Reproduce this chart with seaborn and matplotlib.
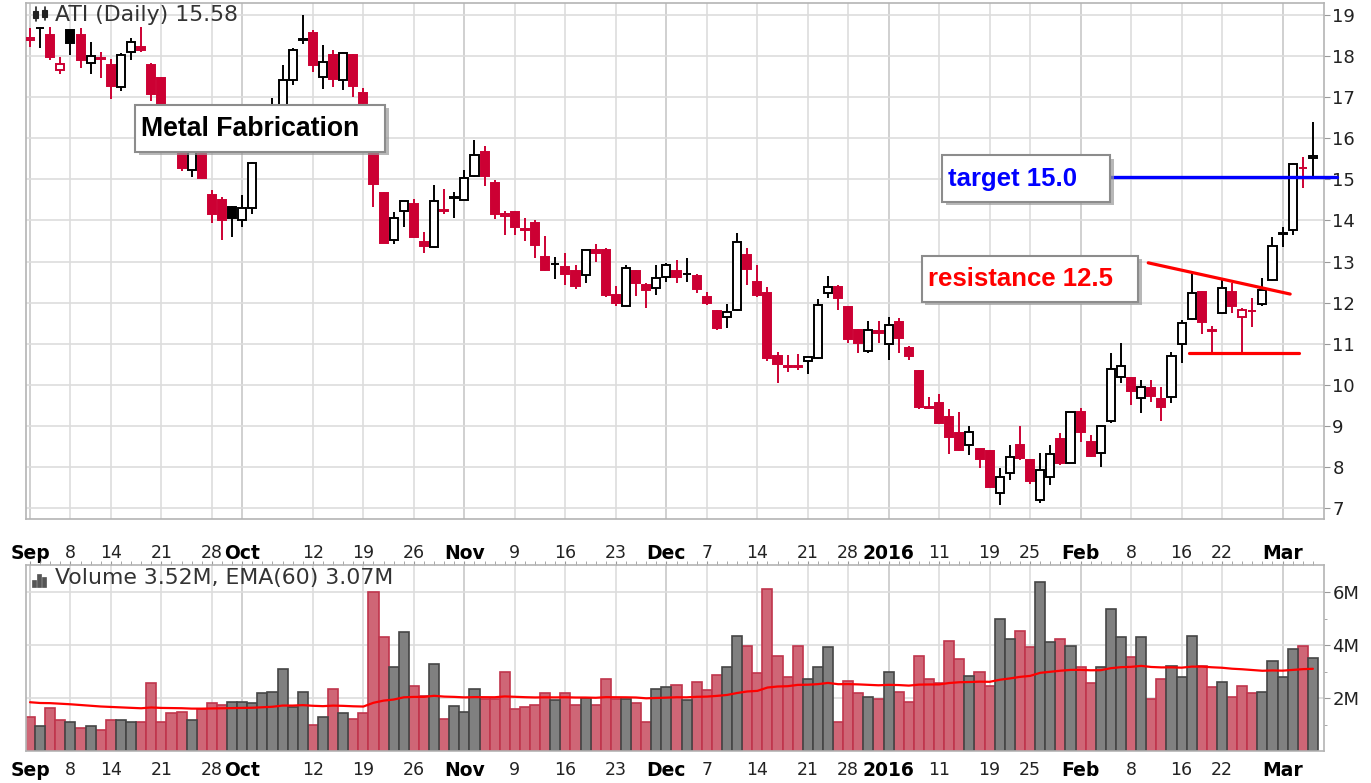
import numpy as np
import pandas as pd
import matplotlib
matplotlib.use("Agg")
import matplotlib.pyplot as plt
import matplotlib.patheffects as pe
from matplotlib.patches import Rectangle
import seaborn as sns

sns.set_style("white")
plt.rcParams["font.family"] = ["DejaVu Sans"]

# ---------------- data ----------------
start_date, end_date = "2015-09-01", "2016-03-04"
holidays = ["2015-09-07", "2015-11-26", "2015-12-25", "2016-01-01", "2016-01-18", "2016-02-15"]

prev_close_start = 18.70
opens = [18.40, 18.68, 18.51, 17.66, 18.64, 18.51, 17.84, 17.95, 17.78, 17.24,
         18.11, 18.23, 17.78, 17.46, 16.55, 15.85, 15.23, 15.80, 14.62, 14.50,
         14.32, 14.01, 14.30, 15.90, 16.30, 16.80, 17.42, 18.42, 18.55, 17.48,
         18.03, 17.43, 18.03, 17.11, 16.40, 14.68, 13.53, 14.24, 14.40, 13.48,
         13.35, 14.26, 14.55, 14.51, 15.08, 15.66, 14.92, 14.11, 14.20, 13.79,
         13.93, 13.12, 12.93, 12.88, 12.76, 12.67, 13.28, 13.28, 12.19, 11.92,
         12.76, 12.43, 12.35, 12.63, 12.76, 12.70, 12.65, 12.15, 11.81, 11.64,
         11.82, 13.16, 12.51, 12.23, 10.70, 10.46, 10.46, 10.57, 10.65, 12.24,
         12.39, 11.90, 11.34, 10.83, 11.30, 10.99, 11.54, 10.89, 10.35, 9.46,
         9.57, 9.23, 8.84, 8.54, 8.43, 8.40, 7.36, 7.85, 8.54, 8.17,
         7.20, 7.75, 8.68, 8.11, 9.35, 8.62, 8.35, 9.13, 10.20, 10.16,
         9.67, 9.92, 9.65, 9.71, 11.00, 11.60, 12.27, 11.33, 11.74, 12.27,
         11.66, 11.81, 11.97, 12.55, 13.68, 13.77, 15.28, 15.51]
highs = [18.68, 18.72, 18.72, 17.99, 18.64, 18.68, 18.35, 18.11, 17.92, 18.07,
         18.43, 18.72, 17.82, 17.50, 16.70, 16.00, 15.90, 15.85, 14.74, 14.58,
         14.35, 14.62, 15.43, 16.40, 16.97, 17.78, 18.19, 19.00, 18.64, 18.27,
         18.16, 18.11, 18.05, 17.22, 16.50, 14.70, 14.21, 14.47, 14.52, 13.73,
         14.86, 14.76, 14.70, 15.23, 15.96, 15.81, 14.99, 14.24, 14.24, 14.05,
         14.00, 13.62, 13.12, 13.20, 12.92, 13.27, 13.44, 13.32, 12.41, 12.92,
         12.80, 12.47, 12.92, 12.96, 13.04, 13.08, 12.71, 12.27, 11.83, 11.98,
         13.69, 13.32, 12.92, 12.37, 10.81, 10.73, 10.75, 10.67, 12.08, 12.65,
         12.43, 11.92, 11.36, 11.56, 11.56, 11.66, 11.62, 10.95, 10.36, 9.71,
         9.79, 9.41, 9.35, 9.00, 8.45, 8.42, 7.97, 8.54, 9.00, 8.19,
         8.35, 8.54, 8.82, 9.35, 9.43, 8.78, 9.00, 10.77, 11.01, 10.20,
         10.12, 10.12, 9.96, 10.81, 11.58, 12.71, 12.28, 11.43, 12.59, 12.47,
         11.86, 12.11, 12.59, 13.59, 13.85, 15.39, 15.54, 16.40]
lows = [18.23, 18.19, 17.90, 17.56, 18.03, 17.70, 17.56, 17.46, 16.95, 17.16,
        17.90, 18.11, 16.90, 16.40, 15.72, 15.20, 15.07, 15.00, 13.95, 13.53,
        13.61, 13.85, 14.17, 15.85, 16.10, 16.70, 17.30, 18.30, 17.62, 17.19,
        17.24, 17.18, 17.01, 16.75, 14.34, 13.46, 13.43, 13.85, 13.57, 13.20,
        13.32, 14.17, 14.05, 14.50, 15.05, 14.84, 14.03, 13.65, 13.65, 13.51,
        13.08, 12.76, 12.57, 12.43, 12.33, 12.47, 13.00, 12.15, 11.92, 11.92,
        12.16, 11.86, 12.19, 12.51, 12.47, 12.51, 12.23, 11.94, 11.34, 11.38,
        11.80, 12.43, 12.15, 10.57, 10.04, 10.32, 10.36, 10.27, 10.64, 12.11,
        11.82, 11.01, 10.77, 10.78, 11.01, 10.61, 10.78, 10.61, 9.41, 9.43,
        9.05, 8.33, 8.38, 8.29, 7.97, 7.48, 7.08, 7.69, 8.17, 7.60,
        7.12, 7.56, 8.05, 8.09, 8.62, 8.24, 8.00, 9.08, 10.04, 9.51,
        9.32, 9.59, 9.13, 9.55, 10.54, 11.58, 11.25, 10.81, 11.73, 11.74,
        10.81, 11.42, 11.92, 12.54, 13.36, 13.65, 14.78, 15.08]
closes = [18.45, 18.68, 17.99, 17.81, 18.33, 17.90, 18.00, 17.93, 17.27, 18.03,
          18.35, 18.15, 17.09, 16.50, 15.90, 15.27, 15.80, 15.03, 14.17, 14.01,
          14.05, 14.30, 15.39, 16.20, 16.70, 17.43, 18.15, 18.38, 17.78, 17.86,
          17.44, 18.07, 17.27, 16.85, 14.90, 13.46, 14.05, 14.47, 13.61, 13.38,
          14.47, 14.24, 14.57, 15.03, 15.59, 15.08, 14.17, 14.16, 13.85, 13.77,
          13.40, 12.80, 12.95, 12.71, 12.41, 13.27, 13.20, 12.19, 12.00, 12.84,
          12.47, 12.31, 12.59, 12.92, 12.63, 12.70, 12.33, 12.00, 11.38, 11.78,
          13.48, 12.81, 12.19, 10.65, 10.51, 10.44, 10.43, 10.67, 11.94, 12.37,
          12.11, 11.11, 11.03, 11.34, 11.27, 11.46, 11.13, 10.70, 9.45, 9.44,
          9.08, 8.74, 8.42, 8.86, 8.19, 7.52, 7.77, 8.25, 8.22, 7.65,
          7.93, 8.33, 8.09, 9.33, 8.86, 8.27, 9.00, 10.38, 10.47, 9.84,
          9.94, 9.73, 9.45, 10.70, 11.50, 12.24, 11.54, 11.30, 12.35, 11.92,
          11.82, 11.80, 12.31, 13.38, 13.70, 15.38, 15.27, 15.58]
volume_m = [1.27, 0.96, 1.64, 1.18, 1.11, 0.88, 0.96, 0.81, 1.18, 1.17,
            1.11, 1.11, 2.55, 1.11, 1.42, 1.48, 1.17, 1.58, 1.80, 1.74,
            1.86, 1.86, 1.80, 2.18, 2.24, 3.08, 1.67, 2.24, 0.98, 1.27,
            2.34, 1.42, 1.19, 1.42, 6.01, 4.29, 3.16, 4.50, 2.47, 2.08,
            3.28, 1.19, 1.71, 1.48, 2.33, 1.95, 1.95, 2.99, 1.57, 1.65,
            1.74, 2.18, 1.92, 2.18, 1.74, 1.99, 1.74, 2.70, 1.95, 1.95,
            1.80, 1.11, 2.33, 2.40, 2.49, 1.92, 2.62, 2.30, 2.87, 3.16,
            4.34, 3.97, 2.93, 6.10, 3.60, 2.78, 3.97, 2.70, 3.16, 3.91,
            1.11, 2.64, 2.18, 2.03, 1.95, 2.99, 2.24, 1.86, 3.60, 2.70,
            2.55, 4.15, 3.46, 2.84, 2.99, 2.47, 4.97, 4.21, 4.53, 3.91,
            6.39, 4.13, 4.21, 3.97, 3.16, 2.55, 3.16, 5.35, 4.29, 3.53,
            4.29, 1.95, 2.70, 3.22, 2.78, 4.34, 3.22, 2.40, 2.62, 2.03,
            2.47, 2.18, 2.24, 3.40, 2.78, 3.84, 3.97, 3.52]
ema_seed_m = 1.86

tick_dates = ["2015-09-01", "2015-09-08", "2015-09-14", "2015-09-21", "2015-09-28",
              "2015-10-01", "2015-10-12", "2015-10-19", "2015-10-26", "2015-11-02",
              "2015-11-09", "2015-11-16", "2015-11-23", "2015-12-01", "2015-12-07",
              "2015-12-14", "2015-12-21", "2015-12-28", "2016-01-04", "2016-01-11",
              "2016-01-19", "2016-01-25", "2016-02-01", "2016-02-08", "2016-02-16",
              "2016-02-22", "2016-03-01"]
tick_labels = ["Sep", "8", "14", "21", "28", "Oct", "12", "19", "26", "Nov", "9", "16", "23",
               "Dec", "7", "14", "21", "28", "2016", "11", "19", "25", "Feb", "8", "16", "22", "Mar"]
month_labels = ["Sep", "Oct", "Nov", "Dec", "2016", "Feb", "Mar"]
price_ticks = [7, 8, 9, 10, 11, 12, 13, 14, 15, 16, 17, 18, 19]
volume_ticks = [2, 4, 6]
volume_tick_labels = ["2M", "4M", "6M"]

# ---------------- derived ----------------
dates = pd.bdate_range(start_date, end_date)
dates = dates[~dates.isin(pd.to_datetime(holidays))]
n = len(dates)
x = np.arange(n)
tick_idx = dates.get_indexer(pd.to_datetime(tick_dates))

o, h, l, c = (np.array(a, dtype=float) for a in (opens, highs, lows, closes))
prev = np.concatenate([[prev_close_start], c[:-1]])
up = c >= prev
RED = "#cc0033"
col = np.where(up, "#000000", RED)
hollow = c > o
face = np.where(hollow, "#ffffff", col)

vol = np.array(volume_m)
ema = pd.Series([ema_seed_m] + list(vol)).ewm(span=60, adjust=False).mean().iloc[1:].to_numpy()

# ---------------- figure ----------------
W, H = 1371, 783
fig = plt.figure(figsize=(W / 100, H / 100), dpi=100)


def axrect(left, top, right, bottom):
    return [left / W, 1 - bottom / H, (right - left) / W, (bottom - top) / H]


axp = fig.add_axes(axrect(26, 3, 1324, 519))
axv = fig.add_axes(axrect(26, 565, 1324, 751))

# candles
axp.vlines(x, l, h, colors=col, lw=1.4, zorder=3)
axp.bar(x, np.abs(c - o), bottom=np.minimum(o, c), width=0.8, color=face,
        edgecolor=col, linewidth=1.4, zorder=4)

# volume
dfv = pd.DataFrame({"idx": x, "vol": vol, "dir": np.where(up, "up", "down")})
sns.barplot(data=dfv, x="idx", y="vol", hue="dir",
            palette={"up": "#808080", "down": "#cf6676"},
            native_scale=True, dodge=False, width=1.0, saturation=1,
            legend=False, ax=axv, zorder=2)
for p in axv.patches:
    fc = p.get_facecolor()
    p.set_edgecolor("#c0354c" if fc[0] > 0.7 else "#454545")
    p.set_linewidth(1.2)
sns.lineplot(x=x, y=ema, ax=axv, color="#ff0000", lw=1.6, zorder=5)

GRID = "#dddddd"
for ax in (axp, axv):
    ax.set_xlim(-0.4, 128.1)
    ax.set_xticks(tick_idx)
    ax.set_xticklabels(tick_labels)
    ax.set_xticks(x, minor=True)
    ax.set_xlabel("")
    ax.set_ylabel("")
    ax.grid(True, which="major", color=GRID, lw=1.2)
    ax.set_axisbelow(True)
    for s in ax.spines.values():
        s.set_color("#b4b4b4")
        s.set_linewidth(1.2)
    ax.yaxis.tick_right()
    ax.tick_params(axis="x", which="both", length=3, color="#999999", labelsize=12.5,
                   labelcolor="#222222")
    for lab, t in zip(ax.get_xticklabels(), tick_labels):
        if t in month_labels:
            lab.set_fontweight("bold")
            lab.set_color("#000000")
            lab.set_fontsize(13.5)
    for gl, t in zip(ax.get_xgridlines(), tick_labels):
        if t in month_labels:
            gl.set_color("#c8c8c8")

axp.tick_params(axis="x", which="both", pad=15)
axv.tick_params(axis="x", which="both", pad=4.5, top=True)

axp.set_ylim(6.737, 19.292)
axp.set_yticks(price_ticks)
axp.set_yticklabels([str(t) for t in price_ticks])
axp.tick_params(axis="y", length=4, pad=2, labelsize=13, color="#999999", labelcolor="#222222")

axv.set_ylim(0, 7.02)
axv.set_yticks(volume_ticks)
axv.set_yticklabels(volume_tick_labels)
axv.set_yticks([1, 3, 5], minor=True)
axv.tick_params(axis="y", which="major", length=4, pad=2, labelsize=13, color="#999999",
                labelcolor="#222222")
axv.tick_params(axis="y", which="minor", length=2.5, color="#999999")

# headers
axp.text(0.0223, 0.9767, "ATI (Daily) 15.58", transform=axp.transAxes, fontsize=15.8,
         color="#333333", va="center", ha="left", zorder=8)
axv.text(0.0223, 0.930, "Volume 3.52M, EMA(60) 3.07M", transform=axv.transAxes, fontsize=15.8,
         color="#333333", va="center", ha="left", zorder=8)


def fpx(px, py):
    return px / W, 1 - py / H


# small icons
for (x0, x1, yb0, yb1, yw0, yw1) in [(33, 38, 11, 18, 7, 21), (42, 47, 10, 17, 7, 20)]:
    fx, fy = fpx(x0, yb1)
    fig.add_artist(Rectangle((fx, fy), (x1 - x0) / W, (yb1 - yb0) / H, transform=fig.transFigure,
                             facecolor="#222222", edgecolor="#222222", lw=0.8))
    fig.add_artist(plt.Line2D([((x0 + x1) / 2) / W] * 2, [1 - yw0 / H, 1 - yw1 / H],
                              transform=fig.transFigure, color="#222222", lw=1.2))
for (x0, top) in [(32, 580), (37, 574), (42, 577)]:
    fx, fy = fpx(x0, 587)
    fig.add_artist(Rectangle((fx, fy), 3.5 / W, (587 - top) / H, transform=fig.transFigure,
                             facecolor="#555555", edgecolor="#555555", lw=0.5))


# annotation boxes
def label_box(x0, x1, y0, y1, tx, ty, text, color, size):
    rect = Rectangle((x0, y0), x1 - x0, y1 - y0, facecolor="white", edgecolor="#8c8c8c",
                     lw=1.5, zorder=6)
    rect.set_path_effects([pe.SimplePatchShadow(offset=(2.5, -2.5), shadow_rgbFace="#9a9a9a",
                                                alpha=0.7), pe.Normal()])
    axp.add_patch(rect)
    axp.text(tx, ty, text, color=color, fontsize=size, fontweight="bold",
             family="Liberation Sans", va="center", ha="left", zorder=7)


label_box(10.4, 35.15, 15.67, 16.81, 11.0, 16.23, "Metal Fabrication", "#000000", 19.2)
label_box(90.3, 106.93, 14.45, 15.59, 90.9, 15.02, "target 15.0", "#0000ff", 18.5)
label_box(88.3, 109.7, 12.02, 13.14, 88.9, 12.58, "resistance 12.5", "#ff0000", 18.5)

axp.plot([106.93, 129.4], [15.05, 15.05], color="#0000ff", lw=2.4, clip_on=False, zorder=5)
axp.plot([110.7, 124.75], [12.97, 12.21], color="#ff0000", lw=2.3, zorder=5)
axp.plot([114.7, 125.6], [10.78, 10.78], color="#ff0000", lw=2.3, zorder=5)

fig.savefig("out.png", dpi=100)
